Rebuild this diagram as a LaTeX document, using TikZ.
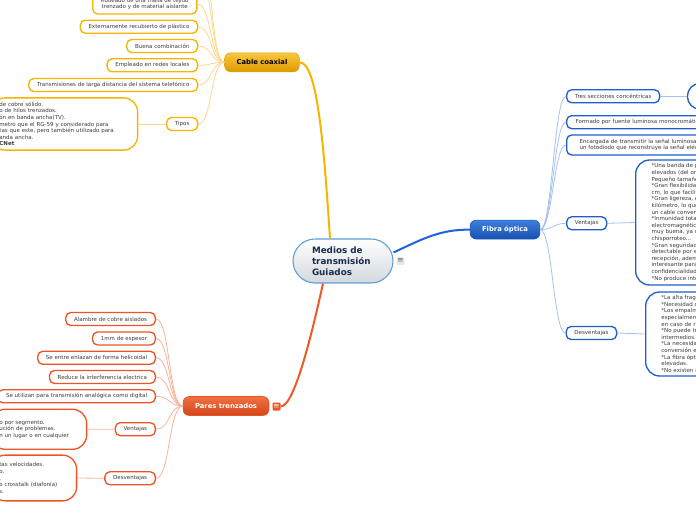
\documentclass[tikz,border=0pt]{standalone}
\usepackage{fontspec}
\setmainfont{DejaVu Sans}
\usepackage{tikz}

\definecolor{coaxline}{HTML}{F5B400}
\definecolor{coaxfan}{HTML}{FCD88C}
\definecolor{coaxtop}{HTML}{F9C740}
\definecolor{coaxbot}{HTML}{DE9A00}
\definecolor{coaxlink}{HTML}{F7B500}
\definecolor{fibraline}{HTML}{1F5FCC}
\definecolor{fibrafan}{HTML}{A3C2F0}
\definecolor{fibratop}{HTML}{3D7FDB}
\definecolor{fibrabot}{HTML}{1A50AE}
\definecolor{fibralink}{HTML}{1E64D8}
\definecolor{paresline}{HTML}{EA5528}
\definecolor{paresfan}{HTML}{F7B39A}
\definecolor{parestop}{HTML}{F07040}
\definecolor{paresbot}{HTML}{D4461A}
\definecolor{pareslink}{HTML}{EC5A2A}
\definecolor{rootline}{HTML}{5A9FD6}
\definecolor{rootbot}{HTML}{D3D9DE}
\definecolor{roottext}{HTML}{1B2A4E}
\definecolor{leaftext}{HTML}{3C3C3C}
\definecolor{iconbg}{HTML}{E6E6E6}

\newcommand\leaffont{\fontsize{4.13pt}{4.95pt}\selectfont}
\newcommand\topicfont{\fontsize{5.1pt}{6pt}\selectfont\bfseries}
\newcommand\rootfont{\fontsize{6.6pt}{8.25pt}\selectfont\bfseries}
\newcommand\nl{\\{}}

\tikzset{
    leaf/.style={draw, fill=white, rounded corners=3.75pt, line width=1pt, font=\leaffont, text=leaftext, inner xsep=6.2pt, inner ysep=1.5pt, minimum height=9.75pt},
    leafor/.style={leaf, draw=coaxline},
    leafbl/.style={leaf, draw=fibraline},
    leafrd/.style={leaf, draw=paresline},
    bigbox/.style={rounded corners=10.5pt, align=left, inner ysep=1pt, inner xsep=6pt},
    topic/.style={rounded corners=4.5pt, font=\topicfont, inner xsep=9pt, minimum height=14.25pt},
    root/.style={draw=rootline, line width=0.8pt, top color=white, bottom color=rootbot, rounded corners=16.5pt, minimum width=75pt, minimum height=33pt, text width=46.5pt, align=left, inner xsep=14.25pt, font=\rootfont, text=roottext},
    icon/.style={rounded corners=0.8pt, inner sep=0pt, minimum width=6pt, minimum height=6pt, font=\fontsize{5.5pt}{5.5pt}\selectfont},
    fanor/.style={draw=coaxfan, line width=0.6pt},
    fanbl/.style={draw=fibrafan, line width=0.6pt},
    fanrd/.style={draw=paresfan, line width=0.6pt},
}

\begin{document}
\begin{tikzpicture}[x=0.75pt, y=-0.75pt]
    \useasboundingbox (0,0) rectangle (696,520);
    \clip (0,0) rectangle (696,520);

    % centre
    \node[root] (ctr) at (343,261) {Medios de\\transmisión\\Guiados};
    \node[icon, fill=iconbg, text=black!60] (ricon) at (400.5,261) {≡};

    % cable coaxial
    \node[topic, top color=coaxtop, bottom color=coaxbot, draw=coaxline!90!black, text=black] (coax) at (262,62.3) {Cable coaxial};
    \node[leafor, anchor=east, align=center, minimum height=15pt] (c1) at (197.5,4) {Rodeado de una malla de tejido\\trenzado y de material aislante};
    \node[leafor, anchor=east] (c2) at (198.3,26.7) {Externamente recubierto de plástico};
    \node[leafor, anchor=east] (c3) at (198.3,46) {Buena combinación};
    \node[leafor, anchor=east] (c4) at (198.3,65.3) {Empleado en redes locales};
    \node[leafor, anchor=east] (c5) at (198.3,85) {Transmisiones de larga distancia del sistema telefónico};
    \node[leafor, anchor=east] (c6) at (198.3,124) {Tipos};
    \node[leafor, bigbox, anchor=east, text width=97.7pt, minimum height=39.2pt] (tipos) at (138.3,124)
        {de cobre sólido.\\o de hilos trenzados.\\ón en banda ancha(TV).\\metro que el RG-59 y considerado para\\tas que este, pero también utilizado para\\anda ancha.\\\textbf{CNet}};
    \coordinate (h1) at (199,-22);
    \coordinate (h2) at (199,-46);

    % fibra optica
    \node[topic, top color=fibratop, bottom color=fibrabot, draw=fibraline, text=white] (fibra) at (505,229.6) {Fibra óptica};
    \node[leafbl, anchor=west] (f1) at (566,96.3) {Tres secciones concéntricas};
    \node[leafbl, rounded corners=9.75pt, anchor=west, minimum width=30pt, minimum height=19.5pt] (f1box) at (686.7,96.3) {};
    \node[leafbl, anchor=west, align=left, text width=130pt, inner xsep=6.75pt] (f2) at (566,122.2) {Formado por fuente luminosa monocromática y};
    \node[leafbl, anchor=west, align=left, text width=130pt, inner xsep=9.75pt, minimum height=15pt] (f3) at (566,145)
        {Encargada de transmitir la señal luminosa a\\un fotodiodo que reconstruye la señal eléctrica};
    \node[leafbl, anchor=west] (f4) at (566,223.3) {Ventajas};
    \node[leafbl, bigbox, anchor=west, text width=110pt, inner xsep=12pt, minimum height=93.75pt] (f4box) at (635,222.5)
        {*Una banda de paso muy\nl elevados (del orden de\nl Pequeño tamaño, por\nl *Gran flexibilidad, el\nl cm, lo que facilita la\nl *Gran ligereza, el peso\nl kilómetro, lo que\nl un cable convencional\nl *Inmunidad total a\nl electromagnéticas\nl muy buena, ya que\nl chisporroteo...\nl *Gran seguridad: la\nl detectable por el\nl recepción, además\nl interesante para\nl confidencialidad\nl *No produce interferencias};
    \node[leafbl, anchor=west] (f5) at (565.5,333) {Desventajas};
    \node[leafbl, bigbox, anchor=west, text width=110pt, inner xsep=11.8pt, minimum height=63pt] (f5box) at (645,334)
        {*La alta fragilidad\nl *Necesidad de usar\nl *Los empalmes\nl especialmente\nl en caso de ruptura\nl *No puede transmitir\nl intermedios.\nl *La necesidad de\nl conversión eléctrica\nl *La fibra óptica\nl elevadas.\nl *No existen memorias};

    % pares trenzados
    \node[topic, top color=parestop, bottom color=paresbot, draw=paresline, text=white] (pares) at (226,406) {Pares trenzados};
    \node[icon, fill=paresline, text=white] (picon) at (276.5,406.5) {≡};
    \node[leafrd, anchor=east] (p1) at (156,319) {Alambre de cobre aislados};
    \node[leafrd, anchor=east] (p2) at (156,338.5) {1mm de espesor};
    \node[leafrd, anchor=east] (p3) at (156,357.8) {Se entre enlazan de forma helicoidal};
    \node[leafrd, anchor=east] (p4) at (156,377) {Reduce la interferencia electrica};
    \node[leafrd, anchor=east] (p5) at (156,396.3) {Se utilizan para transmisión analógica como digital};
    \node[leafrd, anchor=east] (p6) at (156,429.2) {Ventajas};
    \node[leafrd, bigbox, anchor=east, text width=59.5pt, minimum height=30pt] (p6box) at (87.3,429.3)
        {o por segmento.\\ución de problemas.\\n un lugar o en cualquier};
    \node[leafrd, anchor=east] (p7) at (156,478.3) {Desventajas};
    \node[leafrd, bigbox, anchor=east, text width=52pt, minimum height=34.3pt] (p7box) at (77.3,478)
        {tas velocidades.\\o.\\.\\o crosstalk (diafonía)\\s.};

    % main links
    \draw[coaxlink, line width=1.5pt] (coax.east) .. controls +(18,0) and +(-6,-90) .. ([xshift=-9.75pt]ctr.north);
    \draw[fibralink, line width=1.5pt] ([yshift=6.4pt]ctr.east) .. controls +(30,-14) and +(-30,0) .. (fibra.west);
    \draw[pareslink, line width=1.5pt] (picon.east) .. controls +(14,0) and +(-10,45) .. ([xshift=-15pt]ctr.south);

    % fans
    \foreach \n in {c1,c2,c3,c4,c5,c6}
        \draw[fanor] (coax.west) .. controls +(-14,0) and +(14,0) .. (\n.east);
    \foreach \n in {h1,h2}
        \draw[fanor] (coax.west) .. controls +(-14,0) and +(14,0) .. (\n);
    \foreach \n in {f1,f2,f3,f4,f5}
        \draw[fanbl] (fibra.east) .. controls +(12,0) and +(-12,0) .. (\n.west);
    \foreach \n in {p1,p2,p3,p4,p5,p6,p7}
        \draw[fanrd] (pares.west) .. controls +(-14,0) and +(14,0) .. (\n.east);
    \draw[fanor] (c6.west) -- (tipos.east);
    \draw[fanbl] (f1.east) -- (f1box.west);
    \draw[fanbl] (f4.east) -- (f4box.west);
    \draw[fanbl] (f5.east) -- (f5box.west);
    \draw[fanrd] (p6.west) -- (p6box.east);
    \draw[fanrd] (p7.west) -- (p7box.east);
\end{tikzpicture}
\end{document}
